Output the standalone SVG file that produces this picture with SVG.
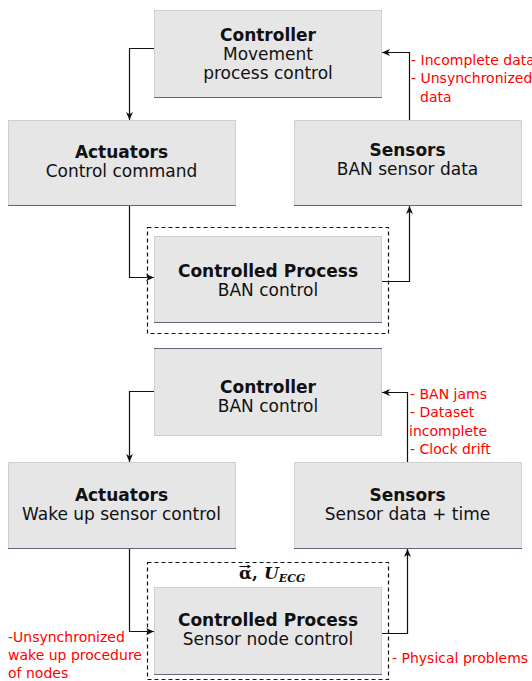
<svg xmlns="http://www.w3.org/2000/svg" width="532" height="681" viewBox="0 0 532 681">
<style>
.box{fill:#e6e6e6;stroke:#cfcfcf;stroke-width:1}
.edge{stroke:#6b6080;stroke-width:1.2}
.t{font-family:"DejaVu Sans",Verdana,sans-serif;font-size:17px;fill:#111;text-anchor:middle}
.b{font-family:"DejaVu Sans",Verdana,sans-serif;font-size:17px;font-weight:bold;fill:#111;text-anchor:middle}
.r{font-family:"DejaVu Sans",Verdana,sans-serif;font-size:14px;fill:#ff0000}
.c{fill:none;stroke:#111;stroke-width:1.2;marker-end:url(#ah)}
.d{fill:none;stroke:#111;stroke-width:1.2;stroke-dasharray:4,3}
</style>
<defs>
<marker id="ah" markerUnits="userSpaceOnUse" markerWidth="10" markerHeight="8" refX="8" refY="4" orient="auto">
<path d="M0,0.5 L8,4 L0,7.5 L2.2,4 Z" fill="#111"/>
</marker>
</defs>
<rect width="532" height="681" fill="#fff"/>

<g id="dashed">
<rect class="d" x="147.5" y="227.5" width="241" height="106"/>
<rect class="d" x="147.5" y="562.5" width="241" height="117"/>
</g>

<g id="controller1">
<rect class="box" x="154.5" y="10.5" width="227" height="87"/>
<line class="edge" x1="154" y1="97.5" x2="382" y2="97.5"/>
<text class="b" x="268" y="41">Controller</text>
<text class="t" x="268" y="60">Movement</text>
<text class="t" x="268" y="79">process control</text>
</g>

<g id="actuators1">
<rect class="box" x="8.5" y="120.5" width="227" height="85"/>
<line class="edge" x1="8" y1="205.5" x2="236" y2="205.5"/>
<text class="b" x="121.5" y="158">Actuators</text>
<text class="t" x="121.5" y="177">Control command</text>
</g>

<g id="sensors1">
<rect class="box" x="294.5" y="120.5" width="227" height="85"/>
<line class="edge" x1="294" y1="205.5" x2="522" y2="205.5"/>
<text class="b" x="407.5" y="156">Sensors</text>
<text class="t" x="407.5" y="175">BAN sensor data</text>
</g>

<g id="process1">
<rect class="box" x="154.5" y="236.5" width="227" height="86"/>
<line class="edge" x1="154" y1="322.5" x2="382" y2="322.5"/>
<text class="b" x="268" y="277">Controlled Process</text>
<text class="t" x="268" y="296">BAN control</text>
</g>

<g id="controller2">
<rect class="box" x="154.5" y="348.5" width="227" height="87"/>
<line class="edge" x1="154" y1="348.5" x2="382" y2="348.5"/>
<text class="b" x="268" y="393">Controller</text>
<text class="t" x="268" y="412">BAN control</text>
</g>

<g id="actuators2">
<rect class="box" x="8.5" y="462.5" width="227" height="86"/>
<line class="edge" x1="8" y1="548.5" x2="236" y2="548.5"/>
<text class="b" x="121.5" y="501">Actuators</text>
<text class="t" x="121.5" y="520">Wake up sensor control</text>
</g>

<g id="sensors2">
<rect class="box" x="294.5" y="462.5" width="227" height="86"/>
<line class="edge" x1="294" y1="548.5" x2="522" y2="548.5"/>
<text class="b" x="407.5" y="501">Sensors</text>
<text class="t" x="407.5" y="520">Sensor data + time</text>
</g>

<g id="process2">
<rect class="box" x="154.5" y="587.5" width="227" height="87"/>
<line class="edge" x1="154" y1="674.5" x2="382" y2="674.5"/>
<text class="b" x="268" y="626">Controlled Process</text>
<text class="t" x="268" y="645">Sensor node control</text>
</g>

<g id="label-alpha">
<text x="239" y="579" font-family="'DejaVu Serif',serif" font-size="17" font-weight="bold" fill="#111">α, <tspan font-style="italic">U</tspan><tspan font-style="italic" font-size="11" dy="3">ECG</tspan></text>
<path d="M239.5,566.5 H249.5" stroke="#111" stroke-width="1.1" fill="none"/>
<path d="M251,566.5 L247.5,564.5 L247.5,568.5 Z" fill="#111"/>
</g>

<g id="connectors">
<path class="c" d="M154,48.5 H129.5 V120"/>
<path class="c" d="M129.5,206 V277.5 H154"/>
<path class="c" d="M382,281.5 H409.5 V206"/>
<path class="c" d="M409.5,120 V52.5 H382"/>
<path class="c" d="M154,391.5 H129.5 V462"/>
<path class="c" d="M129.5,549 V631.5 H154"/>
<path class="c" d="M382,633.5 H407.5 V549"/>
<path class="c" d="M407.5,462 V392.5 H382"/>
</g>

<g id="annotations">
<text class="r" x="411" y="65">- Incomplete data</text>
<text class="r" x="411" y="83">- Unsynchronized</text>
<text class="r" x="420" y="102">data</text>
<text class="r" x="410" y="399">- BAN jams</text>
<text class="r" x="410" y="417">- Dataset</text>
<text class="r" x="409" y="436">incomplete</text>
<text class="r" x="410" y="454">- Clock drift</text>
<text class="r" x="8" y="642">-Unsynchronized</text>
<text class="r" x="8" y="660">wake up procedure</text>
<text class="r" x="8" y="678">of nodes</text>
<text class="r" x="392" y="663">- Physical problems</text>
</g>
</svg>
